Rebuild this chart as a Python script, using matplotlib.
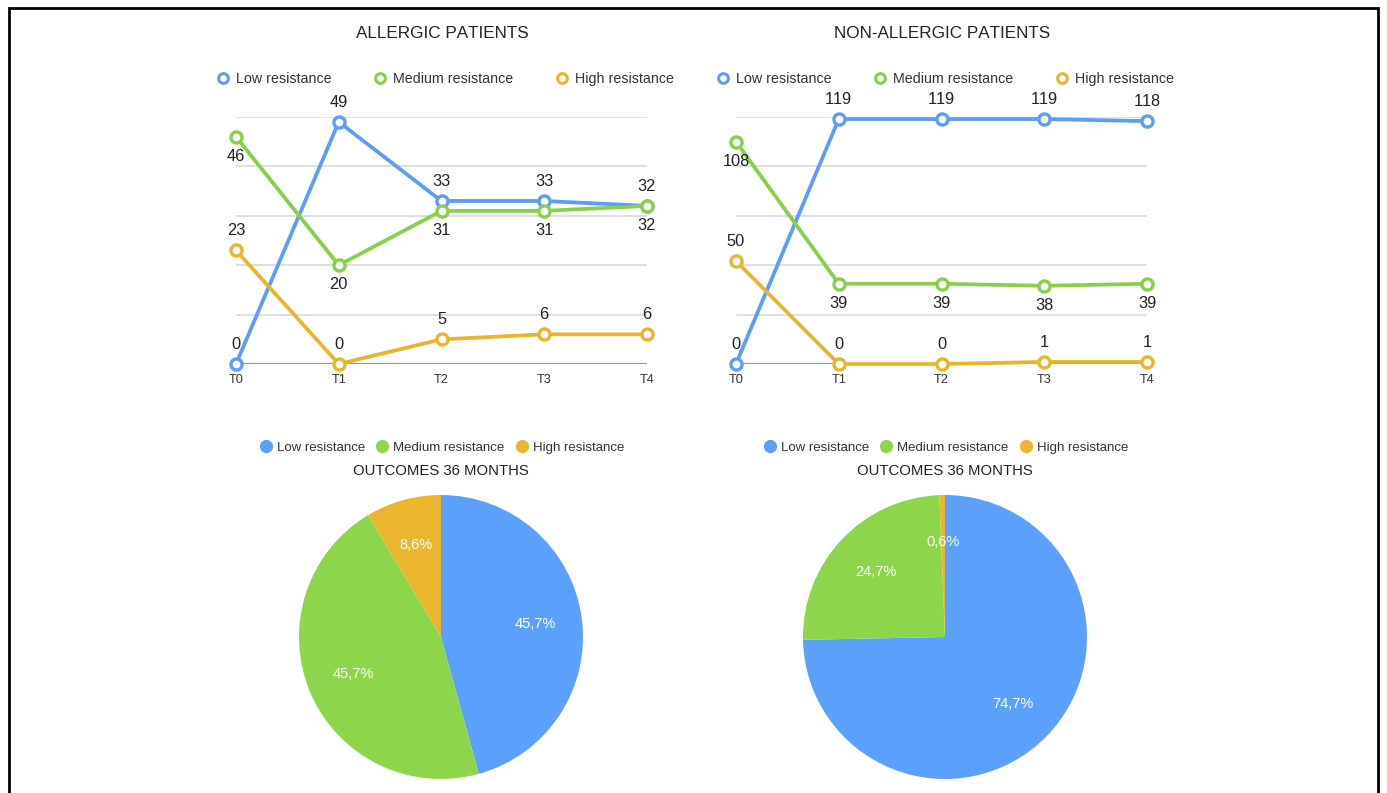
import matplotlib
matplotlib.use("Agg")
import matplotlib.pyplot as plt
from matplotlib.lines import Line2D
from matplotlib.patches import Rectangle

plt.rcParams['font.family'] = ['Liberation Sans', 'DejaVu Sans']
plt.rcParams['text.kerning_factor'] = 6

# ---- data ----
timepoints = ["T0", "T1", "T2", "T3", "T4"]
series_names = ["Low resistance", "Medium resistance", "High resistance"]
allergic_low = [0, 49, 33, 33, 32]
allergic_medium = [46, 20, 31, 31, 32]
allergic_high = [23, 0, 5, 6, 6]
nonallergic_low = [0, 119, 119, 119, 118]
nonallergic_medium = [108, 39, 39, 38, 39]
nonallergic_high = [50, 0, 0, 1, 1]
allergic_outcome = [32, 32, 6]
nonallergic_outcome = [118, 39, 1]
allergic_ymax, allergic_ystep = 50, 10
nonallergic_ymax, nonallergic_ystep = 120, 24

line_colors = ["#5B9DF7", "#87D14A", "#E8B52D"]
pie_colors = ["#5BA1FB", "#8DD64B", "#E9B62E"]
label_side = [1, -1, 1]  # low above, medium below, high above

W, H = 1387, 793
fig = plt.figure(figsize=(W / 100, H / 100), dpi=100)


def px_axes(left, top, right, bottom):
    return fig.add_axes([left / W, 1 - bottom / H, (right - left) / W, (bottom - top) / H])


def line_panel(x0, title, series, ymax, ystep):
    ax = px_axes(x0, 117, x0 + 411, 364)
    xs = list(range(len(timepoints)))
    ax.set_xlim(0, len(timepoints) - 1)
    ax.set_ylim(0, ymax)
    for v in range(ystep, ymax + 1, ystep):
        ax.axhline(v, color="#dcdcdc", lw=1.3, zorder=0)
    ax.axhline(0, color="#9a9a9a", lw=1.6, zorder=0)
    for vals, c, side in zip(series, line_colors, label_side):
        ax.plot(xs, vals, color=c, lw=2.7, marker="o", ms=8, mfc="white",
                mec=c, mew=2.4, clip_on=False, zorder=3)
        for x, v in zip(xs, vals):
            ax.annotate(str(v), (x, v), xytext=(0, 14 * side), textcoords="offset points",
                        ha="center", va="center", fontsize=11.8, color="#222222")
    ax.set_xticks(xs)
    ax.set_xticklabels(timepoints, fontsize=9.2, color="#333333")
    ax.tick_params(axis="x", length=0, pad=7)
    ax.set_yticks([])
    for s in ax.spines.values():
        s.set_visible(False)
    cx = (x0 + 206) / W
    fig.text(cx, 1 - 33 / H, title, ha="center", va="center", fontsize=12.3, color="#222222")
    handles = [Line2D([], [], color=c, lw=0, marker="o", ms=7, mfc="white", mec=c, mew=2.2)
               for c in line_colors]
    fig.legend(handles, series_names, loc="center", bbox_to_anchor=((x0 + 210) / W, 1 - 79 / H),
               ncol=3, frameon=False, fontsize=10.3, handlelength=0.6, handletextpad=0.6,
               columnspacing=3.1, labelcolor="#333333")


def pie_panel(cx, values):
    ax = px_axes(cx - 142, 637 - 142, cx + 142, 637 + 142)
    ax.pie(values, colors=pie_colors, startangle=90, counterclock=False,
           autopct=lambda p: f"{p:.1f}%".replace(".", ","), pctdistance=0.67,
           textprops=dict(color="white", fontsize=10.5), radius=1,
           wedgeprops=dict(linewidth=0))
    ax.set_xlim(-1, 1)
    ax.set_ylim(-1, 1)
    ax.set_aspect("equal")
    ax.axis("off")
    fig.text(cx / W, 1 - 471 / H, "OUTCOMES 36 MONTHS", ha="center", va="center",
             fontsize=10.7, color="#222222")
    handles = [Line2D([], [], color=c, lw=0, marker="o", ms=8.5) for c in pie_colors]
    fig.legend(handles, series_names, loc="center", bbox_to_anchor=((cx + 2) / W, 1 - 447.5 / H),
               ncol=3, frameon=False, fontsize=9.5, handlelength=0.6, handletextpad=0.55,
               columnspacing=1.0, labelcolor="#333333")


line_panel(236, "ALLERGIC PATIENTS", [allergic_low, allergic_medium, allergic_high],
           allergic_ymax, allergic_ystep)
line_panel(736, "NON-ALLERGIC PATIENTS", [nonallergic_low, nonallergic_medium, nonallergic_high],
           nonallergic_ymax, nonallergic_ystep)
pie_panel(441, allergic_outcome)
pie_panel(945, nonallergic_outcome)

fig.patches.append(Rectangle((9 / W, -0.05), (1378 - 9) / W, 1.05 - 8 / H,
                             transform=fig.transFigure, fill=False, edgecolor="black",
                             lw=2, clip_on=False))

fig.savefig("out.png", dpi=100, facecolor="white")
